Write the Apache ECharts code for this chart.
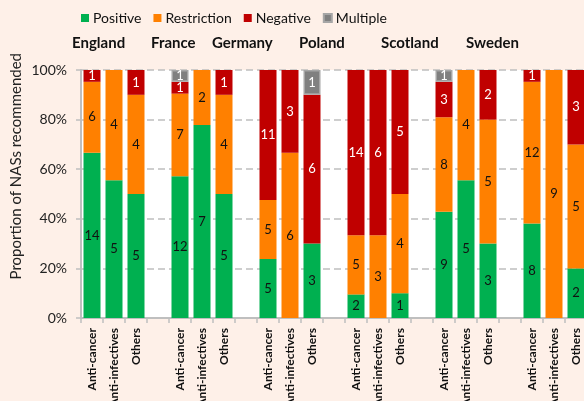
<!DOCTYPE html>
<html>
<head>
<meta charset="utf-8">
<script src="https://cdn.jsdelivr.net/npm/echarts@6/dist/echarts.min.js"></script>
<style>
  html, body { margin: 0; padding: 0; background: #fef0e8; }
  #chart { width: 584px; height: 401px; }
</style>
</head>
<body>
<div id="chart"></div>
<script>
// counts of NASs per country / therapeutic area
const countries = ['England', 'France', 'Germany', 'Poland', 'Scotland', 'Sweden'];
const areas = ['Anti-cancer', 'Anti-infectives', 'Others'];
const positive    = [14, 5, 5,  12, 7, 5,  5, 0, 3,  2, 0, 1,  9, 5, 3,  8, 0, 2];
const restriction = [ 6, 4, 4,   7, 2, 4,  5, 6, 0,  5, 3, 4,  8, 4, 5, 12, 9, 5];
const negative    = [ 1, 0, 1,   1, 0, 1, 11, 3, 6, 14, 6, 5,  3, 0, 2,  1, 0, 3];
const multiple    = [ 0, 0, 0,   1, 0, 0,  0, 0, 1,  0, 0, 0,  1, 0, 0,  0, 0, 0];
const yTicks = [0, 20, 40, 60, 80, 100];
// left edge of each country heading (px)
const countryLabelX = [72, 151, 212, 299, 381, 466];

const FONT = 'Lato';

// build x categories with an empty slot between countries
const xCats = [];
const slotIndex = [];
countries.forEach((c, ci) => {
    areas.forEach((a) => {
        slotIndex.push(xCats.length);
        xCats.push(a);
    });
    if (ci < countries.length - 1) xCats.push('');
});

const totals = positive.map((v, i) => v + restriction[i] + negative[i] + multiple[i]);

function toSeriesData(counts) {
    const out = xCats.map(() => null);
    counts.forEach((v, i) => {
        if (v > 0) out[slotIndex[i]] = { value: v / totals[i] * 100, count: v };
    });
    return out;
}

function makeSeries(name, counts, color, labelColor, extra) {
    return Object.assign({
        name: name,
        type: 'bar',
        stack: 'all',
        barWidth: 17,
        data: toSeriesData(counts),
        itemStyle: { color: color },
        label: {
            show: true,
            position: 'inside',
            color: labelColor,
            fontFamily: FONT,
            fontSize: 13,
            formatter: p => p.data ? p.data.count : ''
        }
    }, extra || {});
}

const chart = echarts.init(document.getElementById('chart'));

const option = {
    backgroundColor: '#fef0e8',
    animation: false,
    textStyle: { fontFamily: FONT },
    legend: {
        left: 76,
        top: 6,
        icon: 'rect',
        itemWidth: 8,
        itemHeight: 8,
        itemGap: 12,
        textStyle: { fontFamily: FONT, fontSize: 14, color: '#111', padding: [0, 0, 0, -1] },
        data: ['Positive', 'Restriction', 'Negative', 'Multiple']
    },
    grid: {
        left: 81,
        top: 70,
        width: 506,
        height: 248,
        outerBoundsMode: 'none',
        containLabel: false,
        show: true,
        backgroundColor: '#ffffff',
        borderWidth: 0
    },
    xAxis: {
        type: 'category',
        data: xCats,
        axisLine: { lineStyle: { color: '#bfbfbf', width: 2 } },
        axisTick: { show: true, length: 5, lineStyle: { color: '#bfbfbf', width: 1.5 } },
        axisLabel: {
            rotate: 90,
            interval: 0,
            margin: 10,
            fontFamily: FONT,
            fontWeight: 'bold',
            fontSize: 12,
            color: '#111'
        }
    },
    yAxis: {
        type: 'value',
        min: 0,
        max: 100,
        interval: 20,
        axisLine: { show: true, lineStyle: { color: '#bfbfbf', width: 2 } },
        axisTick: { show: true, length: 5, lineStyle: { color: '#bfbfbf', width: 1.5 } },
        axisLabel: {
            formatter: '{value}%',
            margin: 14,
            fontFamily: FONT,
            fontSize: 14,
            color: '#222'
        },
        splitLine: { lineStyle: { color: '#bfbfbf', width: 1.5, type: [7, 4] } }
    },
    graphic: [
        {
            type: 'text',
            left: 9,
            top: 53,
            style: {
                text: 'Proportion of NASs recommended',
                fontFamily: FONT,
                fontSize: 15,
                fill: '#222'
            },
            rotation: Math.PI / 2
        }
    ].concat(countries.map((c, i) => ({
        type: 'text',
        left: countryLabelX[i],
        top: 36,
        style: {
            text: c,
            fontFamily: FONT,
            fontSize: 15,
            fontWeight: 'bold',
            fill: '#111'
        }
    }))),
    series: [
        makeSeries('Positive', positive, '#00b050', '#111'),
        makeSeries('Restriction', restriction, '#ff8000', '#111'),
        makeSeries('Negative', negative, '#c00000', '#fff'),
        makeSeries('Multiple', multiple, '#808080', '#fff', {
            itemStyle: { color: '#808080', borderColor: '#a6a6a6', borderWidth: 1.5 }
        })
    ]
};

chart.setOption(option);
</script>
</body>
</html>
